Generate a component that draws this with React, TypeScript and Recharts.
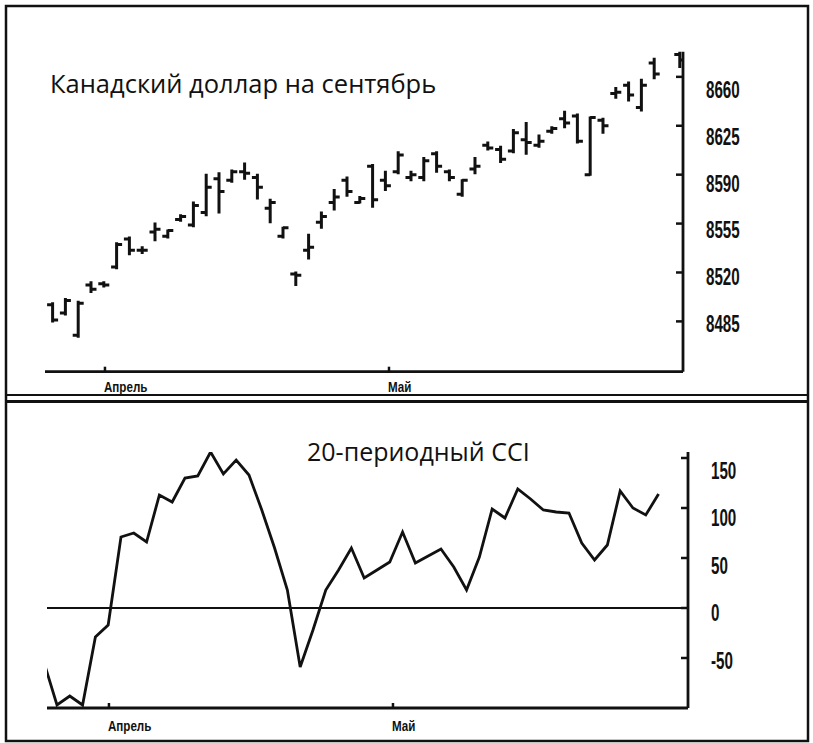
import React from "react";
import { ComposedChart, Bar, Line, XAxis, YAxis, ReferenceLine } from "recharts";

// bar positions (trading day index), day 49 has no bar
const BAR_DAY = [1, 2, 3, 4, 5, 6, 7, 8, 9, 10, 11, 12, 13, 14, 15, 16, 17, 18, 19, 20, 21, 22, 23, 24, 25, 26, 27, 28, 29, 30, 31, 32, 33, 34, 35, 36, 37, 38, 39, 40, 41, 42, 43, 44, 45, 46, 47, 48, 50];
const OPEN = [8497, 8491, 8475, 8511, 8512, 8524, 8544, 8536, 8549, 8546, 8558, 8554, 8563, 8587, 8586, 8592, 8588, 8566, 8546, 8519, 8536, 8556, 8570, 8586, 8570, 8596, 8586, 8592, 8588, 8588, 8605, 8592, 8576, 8594, 8611, 8608, 8607, 8615, 8611, 8621, 8630, 8632, 8590, 8629, 8648, 8654, 8638, 8670, 8676];
const HIGH = [8498, 8501, 8499, 8513, 8513, 8541, 8545, 8538, 8555, 8550, 8561, 8570, 8590, 8591, 8593, 8598, 8590, 8572, 8552, 8520, 8547, 8563, 8579, 8588, 8574, 8597, 8592, 8606, 8592, 8602, 8606, 8593, 8586, 8602, 8613, 8610, 8622, 8627, 8618, 8624, 8635, 8633, 8631, 8630, 8652, 8656, 8658, 8673, 8678];
const LOW = [8485, 8490, 8474, 8506, 8510, 8523, 8533, 8534, 8543, 8545, 8557, 8553, 8561, 8563, 8585, 8587, 8573, 8556, 8545, 8511, 8530, 8552, 8565, 8575, 8570, 8567, 8579, 8591, 8586, 8586, 8592, 8586, 8575, 8591, 8608, 8599, 8606, 8605, 8610, 8620, 8624, 8613, 8590, 8620, 8645, 8643, 8636, 8659, 8667];
const CLOSE = [8486, 8500, 8498, 8508, 8511, 8540, 8536, 8536, 8551, 8550, 8560, 8568, 8581, 8578, 8592, 8591, 8581, 8570, 8552, 8518, 8538, 8560, 8574, 8578, 8573, 8572, 8582, 8604, 8590, 8600, 8596, 8588, 8586, 8596, 8609, 8601, 8620, 8613, 8614, 8623, 8627, 8614, 8631, 8625, 8649, 8647, 8654, 8662, 8672];

// 20-period CCI, days 0..48
const CCI = [-55, -97, -88, -97, -29, -17, 71, 75, 66, 113, 106, 130, 132, 156, 134, 148, 133, 98, 60, 18, -59, -22, 18, 38, 60, 30, 38, 46, 76, 45, 52, 59, 41, 18, 51, 99, 90, 119, 109, 98, 96, 95, 65, 48, 63, 117, 100, 93, 114];

const PRICE_TICKS = [8485, 8520, 8555, 8590, 8625, 8660];
const CCI_TICKS = [-50, 0, 50, 100, 150];
const MONTH_TICKS = [5.06, 27.25];
const MONTH_LABELS = ["Апрель", "Май"];

const priceData = BAR_DAY.map((d, k) => ({
  day: d,
  range: [LOW[k], HIGH[k]],
  o: OPEN[k],
  h: HIGH[k],
  l: LOW[k],
  c: CLOSE[k],
}));

const cciData = CCI.map((v, d) => ({ day: d, cci: v }));

const INK = "#111";
const LABEL_FONT = "Liberation Sans, Arial, sans-serif";

const OhlcShape = (props: any) => {
  const { x, y, width, height, payload } = props;
  const cx = x + width / 2;
  const top = Math.min(y, y + height);
  const bot = Math.max(y, y + height);
  const span = payload.h - payload.l || 1;
  const oy = top + ((payload.h - payload.o) / span) * (bot - top);
  const cy = top + ((payload.h - payload.c) / span) * (bot - top);
  return (
    <g stroke={INK} strokeWidth={3}>
      <line x1={cx} x2={cx} y1={top - 1} y2={bot + 1} />
      <line x1={cx - 5.5} x2={cx} y1={oy} y2={oy} />
      <line x1={cx} x2={cx + 5.5} y1={cy} y2={cy} />
    </g>
  );
};

const AxisLabel = ({ x, y, text }: { x: number; y: number; text: string | number }) => (
  <g transform={`translate(${x},${y}) scale(0.66,1)`}>
    <text x={0} y={0} dy="0.36em" fontSize={23} fontWeight="bold" fontFamily={LABEL_FONT} fill={INK}>
      {text}
    </text>
  </g>
);

const PriceTick = (props: any) => {
  const { x, y, payload } = props;
  const v = payload.value;
  const off = 2 + (11 * (v - 8485)) / 175;
  return (
    <g>
      <line x1={x - 7} x2={x} y1={y} y2={y} stroke={INK} strokeWidth={2.5} />
      <AxisLabel x={x + 23} y={y + off} text={v} />
    </g>
  );
};

const CciTick = (props: any) => {
  const { x, y, payload } = props;
  const v = payload.value;
  const off = 5 + 0.05 * v;
  return (
    <g>
      <line x1={x - 7} x2={x} y1={y} y2={y} stroke={INK} strokeWidth={2.5} />
      <AxisLabel x={x + 23} y={y + off} text={v} />
    </g>
  );
};

const makeMonthTick = (dy: number) => (props: any) => {
  const { x, y, payload } = props;
  const k = MONTH_TICKS.indexOf(payload.value);
  return (
    <g>
      <line x1={x} x2={x} y1={y - 5} y2={y} stroke={INK} strokeWidth={2.5} />
      <g transform={`translate(${x - 1},${y + dy}) scale(0.8,1)`}>
        <text x={0} y={0} fontSize={14.5} fontWeight="bold" fontFamily={LABEL_FONT} fill={INK}>
          {MONTH_LABELS[k]}
        </text>
      </g>
    </g>
  );
};

const axisLine = { stroke: INK, strokeWidth: 2.8 };

export default function App() {
  return (
    <div style={{ position: "absolute", left: 0, top: 0, width: 813, height: 743, background: "#fff" }}>
      <div style={{ position: "absolute", left: 0, top: 0 }}>
        <ComposedChart width={813} height={400} data={priceData} margin={{ top: 51.7, right: 30, bottom: 3.3, left: 45 }}>
          <XAxis
            type="number"
            dataKey="day"
            domain={[0.375, 50.22]}
            allowDataOverflow
            ticks={MONTH_TICKS}
            tick={makeMonthTick(20)}
            tickLine={false}
            tickSize={0}
            tickMargin={0}
            axisLine={axisLine}
            height={25}
            interval={0}
          />
          <YAxis
            orientation="right"
            domain={[8449, 8678]}
            allowDataOverflow
            ticks={PRICE_TICKS}
            tick={PriceTick}
            tickLine={false}
            tickSize={0}
            tickMargin={0}
            axisLine={axisLine}
            width={100}
            interval={0}
          />
          <Bar dataKey="range" barSize={6} shape={OhlcShape} isAnimationActive={false} />
        </ComposedChart>
      </div>
      <div style={{ position: "absolute", left: 0, top: 400 }}>
        <ComposedChart width={813} height={343} data={cciData} margin={{ top: 52, right: 25, bottom: 5, left: 47 }}>
          <XAxis
            type="number"
            dataKey="day"
            domain={[0.22, 50.3]}
            allowDataOverflow
            ticks={MONTH_TICKS}
            tick={makeMonthTick(23)}
            tickLine={false}
            tickSize={0}
            tickMargin={0}
            axisLine={axisLine}
            height={30}
            interval={0}
          />
          <YAxis
            orientation="right"
            domain={[-100, 156]}
            allowDataOverflow
            ticks={CCI_TICKS}
            tick={CciTick}
            tickLine={false}
            tickSize={0}
            tickMargin={0}
            axisLine={axisLine}
            width={100}
            interval={0}
          />
          <ReferenceLine y={0} stroke={INK} strokeWidth={2.2} />
          <Line type="linear" dataKey="cci" stroke={INK} strokeWidth={2.8} dot={false} isAnimationActive={false} />
        </ComposedChart>
      </div>
      <svg width={813} height={743} style={{ position: "absolute", left: 0, top: 0, pointerEvents: "none" }}>
        <rect x={6} y={6} width={802} height={735} fill="none" stroke={INK} strokeWidth={2.5} />
        <line x1={6} x2={808} y1={395} y2={395} stroke={INK} strokeWidth={2} />
        <line x1={6} x2={808} y1={401.5} y2={401.5} stroke={INK} strokeWidth={3} />
        <text x={50} y={93} fontSize={25.5} fontFamily="Open Sans, sans-serif" fill={INK}>
          Канадский доллар на сентябрь
        </text>
        <text x={307} y={461} fontSize={25} fontFamily="Open Sans, sans-serif" fill={INK}>
          20-периодный CCI
        </text>
      </svg>
    </div>
  );
}
